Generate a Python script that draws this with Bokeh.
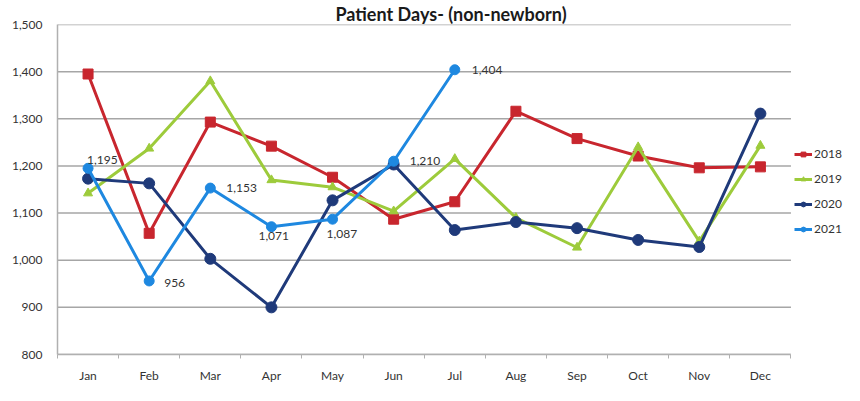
from bokeh.plotting import figure
from bokeh.models import (Range1d, FixedTicker, Legend, LegendItem, ColumnDataSource)
from bokeh.core.properties import value
from bokeh.embed import file_html
from bokeh.resources import INLINE

months = ["Jan", "Feb", "Mar", "Apr", "May", "Jun", "Jul", "Aug", "Sep", "Oct", "Nov", "Dec"]
y2018 = [1395, 1057, 1293, 1242, 1176, 1087, 1124, 1316, 1258, 1221, 1196, 1198]
y2019 = [1142, 1237, 1380, 1170, 1155, 1104, 1215, 1090, 1027, 1240, 1040, 1243]
y2020 = [1173, 1163, 1003, 900, 1127, 1203, 1064, 1081, 1068, 1043, 1028, 1311]
y2021 = [1195, 956, 1153, 1071, 1087, 1210, 1404]
y_ticks = [800, 900, 1000, 1100, 1200, 1300, 1400, 1500]

FONT = "Lato"
TXT = "#333333"
GRID = "#a6a6a6"

# x position of each month = centre of its category slot
def xpos(vals):
    return [months.index(m) + 0.5 for m in months[:len(vals)]]

n = len(months)
# the frame extends past the last month to leave room for the legend on the right
p = figure(width=844, height=385, output_backend="svg", toolbar_location=None,
           x_range=Range1d(0, n * 1.073), y_range=Range1d(y_ticks[0], y_ticks[-1]),
           min_border_left=57, min_border_right=0, min_border_bottom=22, min_border_top=0,
           title="Patient Days- (non-newborn)")
p.title.align = "center"
p.title.text_font = FONT
p.title.text_font_size = "18px"
p.title.text_font_style = "bold"
p.title.text_color = "#1a1a1a"
p.title.standoff = 0
p.title.offset = -30
p.outline_line_color = None
p.background_fill_color = "white"

# horizontal grid lines, limited to the month slots
p.xgrid.grid_line_color = None
p.ygrid.grid_line_color = None
p.segment(x0=0, x1=n, y0=y_ticks, y1=y_ticks, line_color=GRID, line_width=1.5)

# y axis
p.yaxis.ticker = FixedTicker(ticks=y_ticks)
p.yaxis.major_label_overrides = {t: f"{t:,}" for t in y_ticks}
p.yaxis.axis_line_color = "#b0b0b0"
p.yaxis.axis_line_width = 1.5
p.yaxis.major_tick_line_color = None
p.yaxis.minor_tick_line_color = None
p.yaxis.major_label_text_font = FONT
p.yaxis.major_label_text_font_size = "12px"
p.yaxis.major_label_text_color = TXT
p.yaxis.major_label_standoff = 9

# x axis: labels at slot centres, small ticks at slot boundaries
centres = [i + 0.5 for i in range(n)]
p.xaxis.ticker = FixedTicker(ticks=centres, minor_ticks=list(range(n + 1)))
p.xaxis.major_label_overrides = {c: m for c, m in zip(centres, months)}
p.xaxis.bounds = (0, n)
p.xaxis.axis_line_color = "#b0b0b0"
p.xaxis.axis_line_width = 1.5
p.xaxis.major_tick_line_color = None
p.xaxis.minor_tick_line_color = "#b0b0b0"
p.xaxis.minor_tick_in = 0
p.xaxis.minor_tick_out = 4
p.xaxis.major_label_text_font = FONT
p.xaxis.major_label_text_font_size = "12px"
p.xaxis.major_label_text_color = TXT
p.xaxis.major_label_standoff = 7

series = [
    ("2018", y2018, "#c8262e", "square", 10),
    ("2019", y2019, "#9dcb3b", "triangle", 9),
    ("2020", y2020, "#1f3a7a", "circle", 11),
    ("2021", y2021, "#1e88e0", "circle", 10),
]

items = []
for name, vals, col, marker, size in series:
    src = ColumnDataSource(dict(x=xpos(vals), y=vals))
    r1 = p.line("x", "y", source=src, line_color=col, line_width=3)
    r2 = p.scatter("x", "y", source=src, marker=marker, size=size,
                   fill_color=col, line_color=col)
    items.append(LegendItem(label=name, renderers=[r1, r2]))

# data labels for 2021
lab_dx = [-1, 15, 16, -13, -6, 16, 17]
lab_dy = [-8, 2, 0, 9, 15, 0, 0]
lab_src = ColumnDataSource(dict(x=xpos(y2021), y=y2021,
                                t=[f"{v:,}" for v in y2021],
                                dx=lab_dx, dy=lab_dy))
p.text("x", "y", text="t", source=lab_src, x_offset="dx", y_offset="dy",
       text_font=value(FONT), text_font_size="12px", text_color=TXT,
       text_align="left", text_baseline="middle")

legend = Legend(items=items, location=(737, 118), orientation="vertical")
legend.border_line_color = None
legend.background_fill_alpha = 0
legend.label_text_font = FONT
legend.label_text_font_size = "12px"
legend.label_text_color = TXT
legend.glyph_width = 18
legend.glyph_height = 12
legend.label_standoff = 2
legend.spacing = 10
legend.padding = 2
legend.margin = 0
p.add_layout(legend, "center")

open("out.html", "w").write(file_html(p, INLINE))
